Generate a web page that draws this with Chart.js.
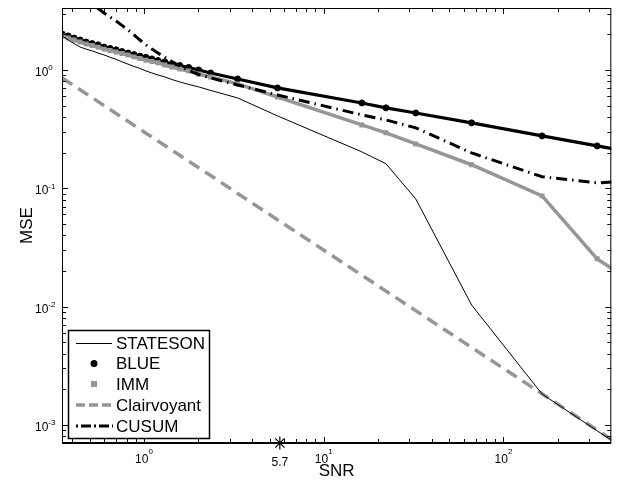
<!DOCTYPE html>
<html>
<head>
<meta charset="utf-8">
<script src="https://cdn.jsdelivr.net/npm/chart.js@4.4.0/dist/chart.umd.min.js"></script>
<style>
  html, body { margin: 0; padding: 0; background: #fff; }
  canvas { display: block; }
</style>
</head>
<body>
<canvas id="mseChart" width="619" height="481"></canvas>
<script>
// data
const snr = [0.351, 0.379, 0.409, 0.442, 0.477, 0.515, 0.556, 0.600, 0.648, 0.700, 0.755, 0.815, 0.880, 0.950,
  1.026, 1.107, 1.196, 1.307, 1.429, 1.582, 1.774, 2.016, 2.35, 3.32, 5.53, 16.3, 22.2, 32.5, 66.5, 164, 332, 500];
const stateson = [1.94, 1.79, 1.67, 1.56, 1.50, 1.45, 1.39, 1.34, 1.28, 1.23, 1.17, 1.12, 1.07, 1.03,
  0.981, 0.943, 0.907, 0.873, 0.831, 0.792, 0.754, 0.719, 0.671, 0.580, 0.409, 0.203, 0.161, 0.0813, 0.0103, 0.00182, 0.00089, 0.00059];
const blue = [2.01, 1.94, 1.86, 1.79, 1.72, 1.67, 1.63, 1.56, 1.52, 1.48, 1.43, 1.39, 1.35, 1.31,
  1.28, 1.24, 1.20, 1.17, 1.12, 1.09, 1.05, 1.00, 0.943, 0.839, 0.705, 0.526, 0.478, 0.433, 0.357, 0.277, 0.228, 0.203];
const imm = [1.94, 1.86, 1.79, 1.72, 1.66, 1.61, 1.56, 1.50, 1.46, 1.42, 1.38, 1.34, 1.29, 1.25,
  1.21, 1.18, 1.15, 1.10, 1.06, 1.02, 0.981, 0.925, 0.873, 0.762, 0.591, 0.343, 0.294, 0.237, 0.158, 0.0862, 0.0253, 0.0168];
const clairvoyant = [0.855, 0.792, 0.733, 0.679, 0.629, 0.583, 0.540, 0.500, 0.463, 0.429, 0.397, 0.368, 0.341, 0.316,
  0.292, 0.271, 0.251, 0.230, 0.210, 0.190, 0.169, 0.149, 0.128, 0.0904, 0.0542, 0.0184, 0.0135, 0.00923, 0.00451, 0.00183, 0.000904, 0.0006];
const cusum = [5.76, 5.23, 4.74, 4.30, 3.94, 3.61, 3.31, 3.03, 2.80, 2.59, 2.38, 2.18, 1.98, 1.79,
  1.63, 1.50, 1.39, 1.28, 1.18, 1.08, 0.990, 0.916, 0.856, 0.747, 0.615, 0.417, 0.378, 0.324, 0.199, 0.125, 0.111, 0.115];

const markedSnr = 5.7;
const xTickExps = [0, 1, 2];
const yTickExps = [-3, -2, -1, 0];
const xRange = [0.35, 398];
const yRange = [0.000702, 3.34];

const FONT = '"Liberation Sans", Arial, sans-serif';
const GRAY = '#969696';

function pts(values) {
  return values.map((v, i) => ({ x: snr[i], y: v }));
}

// MATLAB-style box, inward ticks and 10^n labels
const axesBox = {
  id: 'axesBox',
  afterDraw(chart) {
    const ctx = chart.ctx;
    const a = chart.chartArea;
    const xs = chart.scales.x, ys = chart.scales.y;
    ctx.save();
    ctx.strokeStyle = '#000';
    ctx.lineWidth = 1;

    // ticks
    ctx.beginPath();
    for (let k = -1; k <= 3; k++) {
      for (let m = 1; m <= 9; m++) {
        const v = m * Math.pow(10, k);
        if (v < xRange[0] || v > xRange[1]) continue;
        const px = Math.round(xs.getPixelForValue(v)) + 0.5;
        const len = m === 1 ? 6 : 4;
        ctx.moveTo(px, a.bottom); ctx.lineTo(px, a.bottom - len);
        ctx.moveTo(px, a.top); ctx.lineTo(px, a.top + len);
      }
    }
    for (let k = -4; k <= 1; k++) {
      for (let m = 1; m <= 9; m++) {
        const v = m * Math.pow(10, k);
        if (v < yRange[0] || v > yRange[1]) continue;
        const py = Math.round(ys.getPixelForValue(v)) + 0.5;
        const len = m === 1 ? 6 : 4;
        ctx.moveTo(a.left, py); ctx.lineTo(a.left + len, py);
        ctx.moveTo(a.right, py); ctx.lineTo(a.right - len, py);
      }
    }
    ctx.stroke();

    // box
    ctx.strokeRect(a.left + 0.5, a.top + 0.5, a.right - a.left - 1, a.bottom - a.top - 1);
    ctx.lineWidth = 2;
    ctx.beginPath();
    ctx.moveTo(a.left, a.bottom);
    ctx.lineTo(a.right, a.bottom);
    ctx.stroke();

    // tick labels
    ctx.fillStyle = '#000';
    ctx.textBaseline = 'alphabetic';
    ctx.textAlign = 'left';
    xTickExps.forEach(e => {
      const px = xs.getPixelForValue(Math.pow(10, e));
      ctx.font = '12px ' + FONT;
      const w1 = ctx.measureText('10').width;
      ctx.font = '8px ' + FONT;
      const w2 = ctx.measureText(String(e)).width;
      const x0 = px - (w1 + w2) / 2;
      ctx.font = '12px ' + FONT;
      ctx.fillText('10', x0, a.bottom + 20);
      ctx.font = '8px ' + FONT;
      ctx.fillText(String(e), x0 + w1, a.bottom + 11);
    });
    yTickExps.forEach(e => {
      const py = ys.getPixelForValue(Math.pow(10, e));
      ctx.font = '12px ' + FONT;
      ctx.fillText('10', 35, py + 6);
      const w1 = ctx.measureText('10').width;
      ctx.font = '8px ' + FONT;
      ctx.fillText(String(e), 35 + w1, py + 0.5);
    });
    ctx.font = '12px ' + FONT;
    ctx.textAlign = 'center';
    ctx.fillText(String(markedSnr), xs.getPixelForValue(markedSnr), a.bottom + 23);

    // axis titles
    ctx.font = '17px ' + FONT;
    ctx.fillText('SNR', (a.left + a.right) / 2, a.bottom + 33);
    ctx.save();
    ctx.translate(32, (a.top + a.bottom) / 2);
    ctx.rotate(-Math.PI / 2);
    ctx.fillText('MSE', 0, 0);
    ctx.restore();

    // legend
    const box = { x: 68.5, y: 330.5, w: 141, h: 108 };
    ctx.fillStyle = '#fff';
    ctx.fillRect(box.x, box.y, box.w, box.h);
    ctx.strokeStyle = '#000';
    ctx.lineWidth = 1.5;
    ctx.strokeRect(box.x, box.y, box.w, box.h);

    const rows = [343, 363.5, 384, 405, 426];
    const names = ['STATESON', 'BLUE', 'IMM', 'Clairvoyant', 'CUSUM'];
    ctx.font = '17px ' + FONT;
    ctx.textAlign = 'left';
    ctx.textBaseline = 'middle';
    names.forEach((n, i) => {
      ctx.fillStyle = '#000';
      ctx.fillText(n, 116, rows[i] + 1);
    });

    ctx.lineCap = 'butt';
    // STATESON
    ctx.strokeStyle = '#000'; ctx.lineWidth = 1; ctx.setLineDash([]);
    ctx.beginPath(); ctx.moveTo(76, rows[0] + 0.5); ctx.lineTo(112, rows[0] + 0.5); ctx.stroke();
    // BLUE
    ctx.fillStyle = '#000';
    ctx.beginPath(); ctx.arc(94, rows[1], 3.5, 0, Math.PI * 2); ctx.fill();
    // IMM
    ctx.fillStyle = GRAY;
    ctx.fillRect(91, rows[2] - 3, 6, 6);
    // Clairvoyant
    ctx.strokeStyle = GRAY; ctx.lineWidth = 3.5; ctx.setLineDash([9, 4]);
    ctx.beginPath(); ctx.moveTo(76, rows[3]); ctx.lineTo(113, rows[3]); ctx.stroke();
    // CUSUM
    ctx.strokeStyle = '#000'; ctx.lineWidth = 3; ctx.setLineDash([2, 3, 10, 3]);
    ctx.beginPath(); ctx.moveTo(76, rows[4]); ctx.lineTo(113, rows[4]); ctx.stroke();
    ctx.restore();
  }
};

new Chart(document.getElementById('mseChart'), {
  type: 'line',
  data: {
    datasets: [
      {
        label: 'STATESON', data: pts(stateson), order: 1,
        borderColor: '#000', borderWidth: 1, pointRadius: 0, clip: 0
      },
      {
        label: 'BLUE', data: pts(blue), order: 4,
        borderColor: '#000', borderWidth: 3.2, pointRadius: 3,
        pointBackgroundColor: '#000', pointBorderColor: '#000', pointBorderWidth: 1, clip: 0
      },
      {
        label: 'IMM', data: pts(imm), order: 3,
        borderColor: GRAY, borderWidth: 3.5, pointStyle: 'rect', pointRadius: 3.5,
        pointBackgroundColor: GRAY, pointBorderColor: GRAY, pointBorderWidth: 0, clip: 0
      },
      {
        label: 'Clairvoyant', data: pts(clairvoyant), order: 5,
        borderColor: GRAY, borderWidth: 3.5, borderDash: [12, 7], pointRadius: 0, clip: 0
      },
      {
        label: 'CUSUM', data: pts(cusum), order: 2,
        borderColor: '#000', borderWidth: 3, borderDash: [11, 5, 1.5, 5], pointRadius: 0, clip: 0
      },
      {
        label: 'mark', data: [{ x: markedSnr, y: yRange[0] }], order: 0,
        showLine: false, pointStyle: 'star', pointRadius: 6.5,
        borderColor: '#000', pointBorderColor: '#000', pointBorderWidth: 1.2, clip: false
      }
    ]
  },
  options: {
    responsive: false,
    animation: false,
    devicePixelRatio: 1,
    layout: { padding: { left: 62, top: 8, right: 6, bottom: 38 } },
    plugins: { legend: { display: false }, tooltip: { enabled: false } },
    scales: {
      x: { type: 'logarithmic', min: xRange[0], max: xRange[1], display: false },
      y: { type: 'logarithmic', min: yRange[0], max: yRange[1], display: false }
    }
  },
  plugins: [axesBox]
});
</script>
</body>
</html>
